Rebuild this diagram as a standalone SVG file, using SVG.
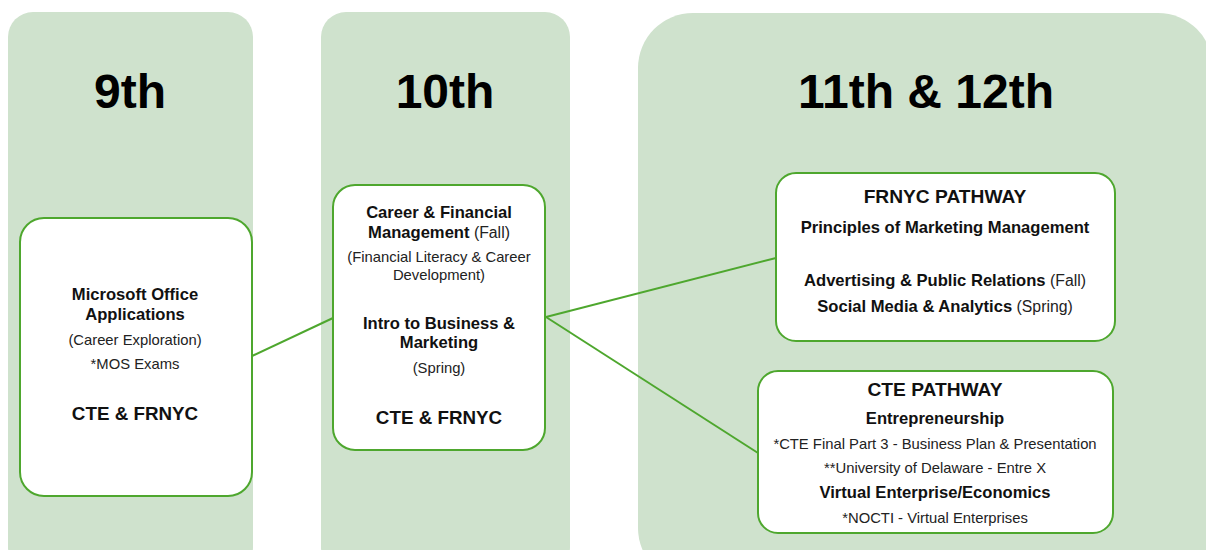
<svg xmlns="http://www.w3.org/2000/svg" width="1206" height="550" viewBox="0 0 1206 550">
<style>
.col{fill:#cfe2cd;stroke:none}
.node{fill:#ffffff;stroke:#4ea72e;stroke-width:2}
.head{font-family:"Liberation Sans",Arial,sans-serif;font-weight:bold;font-size:48px;fill:#000;text-anchor:middle}
.t{font-family:"Liberation Sans",Arial,sans-serif;fill:#111;text-anchor:middle}
.b16{font-size:16.6px;font-weight:bold}
.b18{font-size:18.8px;font-weight:bold}
.b19{font-size:19.2px;font-weight:bold}
.r14{font-size:14.8px;font-weight:normal;fill:#222}
.r15{font-size:15.8px;font-weight:normal;fill:#222}
.conn{stroke:#4ea72e;stroke-width:2;fill:none}
</style>
<rect width="1206" height="550" fill="#ffffff"/>
<g id="columns">
<rect class="col" x="8" y="12" width="245" height="560" rx="25"/>
<rect class="col" x="321" y="12" width="249" height="560" rx="25"/>
<rect class="col" x="638" y="13" width="575" height="570" rx="55"/>
<text class="head" x="130" y="108">9th</text>
<text class="head" x="445" y="108">10th</text>
<text class="head" x="926" y="108">11th &amp; 12th</text>
</g>
<g id="connectors">
<line class="conn" x1="252" y1="356" x2="333" y2="318"/>
<line class="conn" x1="546" y1="317" x2="776" y2="258"/>
<line class="conn" x1="546" y1="317" x2="758" y2="453"/>
</g>
<g id="node-9th">
<rect class="node" x="20" y="218" width="232" height="278" rx="24"/>
<text class="t b16" x="135" y="300">Microsoft Office</text>
<text class="t b16" x="135" y="320">Applications</text>
<text class="t r14" x="135" y="345">(Career Exploration)</text>
<text class="t r14" x="135" y="369">*MOS Exams</text>
<text class="t b18" x="135" y="420">CTE &amp; FRNYC</text>
</g>
<g id="node-10th">
<rect class="node" x="333" y="185" width="212" height="265" rx="22"/>
<text class="t b16" x="439" y="218">Career &amp; Financial</text>
<text class="t" x="439" y="238"><tspan class="b16">Management</tspan><tspan class="r15"> (Fall)</tspan></text>
<text class="t r14" x="439" y="262">(Financial Literacy &amp; Career</text>
<text class="t r14" x="439" y="280">Development)</text>
<text class="t b16" x="439" y="329">Intro to Business &amp;</text>
<text class="t b16" x="439" y="348">Marketing</text>
<text class="t r14" x="439" y="373">(Spring)</text>
<text class="t b18" x="439" y="424">CTE &amp; FRNYC</text>
</g>
<g id="node-frnyc">
<rect class="node" x="776" y="173" width="339" height="168" rx="20"/>
<text class="t b19" x="945" y="203">FRNYC PATHWAY</text>
<text class="t b16" x="945" y="233">Principles of Marketing Management</text>
<text class="t" x="945" y="286"><tspan class="b16">Advertising &amp; Public Relations</tspan><tspan class="r15"> (Fall)</tspan></text>
<text class="t" x="945" y="312"><tspan class="b16">Social Media &amp; Analytics</tspan><tspan class="r15"> (Spring)</tspan></text>
</g>
<g id="node-cte">
<rect class="node" x="758" y="371" width="355" height="162" rx="20"/>
<text class="t b19" x="935" y="396">CTE PATHWAY</text>
<text class="t b16" x="935" y="424">Entrepreneurship</text>
<text class="t r14" x="935" y="449">*CTE Final Part 3 - Business Plan &amp; Presentation</text>
<text class="t r14" x="935" y="473">**University of Delaware - Entre X</text>
<text class="t b16" x="935" y="498">Virtual Enterprise/Economics</text>
<text class="t r14" x="935" y="523">*NOCTI - Virtual Enterprises</text>
</g>
</svg>
